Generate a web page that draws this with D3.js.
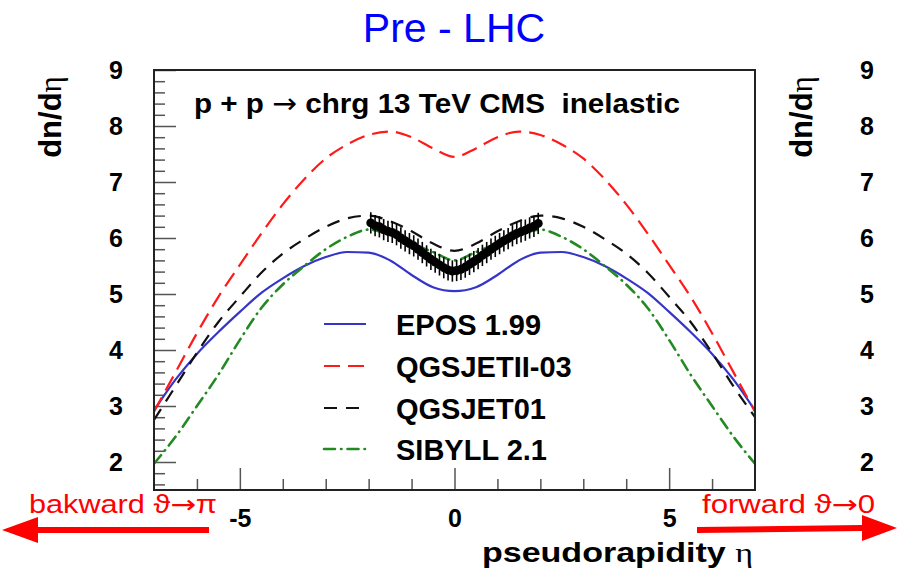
<!DOCTYPE html>
<html><head><meta charset="utf-8">
<script src="https://cdn.jsdelivr.net/npm/d3@7"></script>
<style>html,body{margin:0;padding:0;background:#fff;}svg{display:block;}</style>
</head><body>
<svg id="c" width="897" height="585"></svg>
<script>
// ---------- data ----------
const etaGrid = [-7,-6.5,-6,-5.5,-5,-4.5,-4,-3.5,-3,-2.5,-2,-1.5,-1,-0.5,0,0.5,1,1.5,2,2.5,3,3.5,4,4.5,5,5.5,6,6.5,7];
const epos     = [2.92,3.47,3.93,4.32,4.68,5.02,5.28,5.5,5.66,5.75,5.74,5.6,5.34,5.12,5.05,5.12,5.34,5.6,5.74,5.75,5.66,5.5,5.28,5.02,4.68,4.32,3.93,3.47,2.92];
const qgsjet2  = [2.9,3.6,4.3,4.95,5.52,6.08,6.6,7.05,7.42,7.67,7.84,7.9,7.8,7.6,7.45,7.6,7.8,7.9,7.84,7.67,7.42,7.05,6.6,6.08,5.52,4.95,4.3,3.6,2.9];
const qgsjet01 = [2.75,3.35,3.95,4.5,4.95,5.38,5.72,5.98,6.2,6.35,6.4,6.3,6.12,5.9,5.77,5.9,6.12,6.3,6.4,6.35,6.2,5.98,5.72,5.38,4.95,4.5,3.95,3.35,2.8];
const sibyll   = [1.97,2.45,3.0,3.56,4.18,4.75,5.17,5.5,5.8,6.02,6.15,6.05,5.9,5.75,5.6,5.75,5.9,6.05,6.15,6.02,5.8,5.5,5.17,4.75,4.18,3.56,3.0,2.45,1.97];

const cmsEta = [-1.95,-1.85,-1.75,-1.65,-1.55,-1.45,-1.35,-1.25,-1.15,-1.05,-0.95,-0.85,-0.75,-0.65,-0.55,-0.45,-0.35,-0.25,-0.15,-0.05,
                 0.05,0.15,0.25,0.35,0.45,0.55,0.65,0.75,0.85,0.95,1.05,1.15,1.25,1.35,1.45,1.55,1.65,1.75,1.85,1.95];
const cmsVal = [6.27,6.22,6.2,6.15,6.12,6.1,6.06,6.0,5.95,5.9,5.86,5.8,5.74,5.68,5.62,5.57,5.52,5.47,5.43,5.41,
                5.42,5.44,5.48,5.53,5.58,5.63,5.69,5.74,5.8,5.85,5.9,5.95,5.99,6.04,6.08,6.11,6.14,6.18,6.21,6.26];
const cmsErr = 0.19;

const xMajor = [-5,0,5];
const xMinor = [-6,-4,-3,-2,-1,1,2,3,4,6];
const yMajor = [2,3,4,5,6,7,8,9];
const yMinor = [1.6,1.8,2.2,2.4,2.6,2.8,3.2,3.4,3.6,3.8,4.2,4.4,4.6,4.8,5.2,5.4,5.6,5.8,6.2,6.4,6.6,6.8,7.2,7.4,7.6,7.8,8.2,8.4,8.6,8.8];

const seriesNames  = ["EPOS 1.99","QGSJETII-03","QGSJET01","SIBYLL 2.1"];
const seriesValues = [epos, qgsjet2, qgsjet01, sibyll];
const seriesColors = ["#3535c8","#ff1a1a","#111111","#238a23"];
const seriesDash   = ["", "16,8", "13,9", "11,6,0.5,6"];
const seriesCap    = ["butt","butt","butt","round"];

// ---------- chart ----------
const svg = d3.select("#c");
const L=154, R=755, T=70, B=490;
const x = d3.scaleLinear().domain([-7,7]).range([L,R]);
const y = d3.scaleLinear().domain([1.5,9]).range([B,T]);
const boldFont = "'Liberation Sans', Arial, Helvetica, sans-serif";
const symFont = "'DejaVu Sans', sans-serif";
const fmt = d => String(d);

// title
svg.append("text").attr("x",454).attr("y",42).attr("text-anchor","middle")
  .attr("font-family",boldFont).attr("font-size",41).attr("fill","#0000ff").text("Pre - LHC");

// clip
svg.append("clipPath").attr("id","clip").append("rect").attr("x",L).attr("y",T).attr("width",R-L).attr("height",B-T);

// axes ticks
function styleAxis(g){
  g.select(".domain").remove();
  g.selectAll(".tick line").attr("stroke","#555").attr("stroke-width",1.5);
  g.attr("font-family",boldFont).attr("font-weight","bold").attr("font-size",25);
  g.selectAll(".tick text").attr("fill","#000");
}
svg.append("g").attr("transform",`translate(0,${B})`)
  .call(d3.axisBottom(x).tickValues(xMinor).tickSize(-11).tickFormat("")).call(styleAxis);
svg.append("g").attr("transform",`translate(0,${B})`)
  .call(d3.axisBottom(x).tickValues(xMajor).tickSize(-22).tickPadding(19).tickFormat(fmt)).call(styleAxis);
svg.append("g").attr("transform",`translate(${L},0)`)
  .call(d3.axisLeft(y).tickValues(yMinor).tickSize(-11).tickFormat("")).call(styleAxis);
svg.append("g").attr("transform",`translate(${L},0)`)
  .call(d3.axisLeft(y).tickValues(yMajor).tickSize(-22).tickPadding(31).tickFormat(fmt)).call(styleAxis);
svg.append("g").attr("transform",`translate(${R},0)`)
  .call(d3.axisRight(y).tickValues(yMajor).tickSize(0).tickPadding(105).tickFormat(fmt)).call(styleAxis);

// curves
const plot = svg.append("g").attr("clip-path","url(#clip)");
const line = d3.line().x((d,i)=>x(etaGrid[i])).y(d=>y(d)).curve(d3.curveMonotoneX);
seriesValues.forEach((vals,k)=>{
  plot.append("path").attr("d",line(vals)).attr("fill","none")
    .attr("stroke",seriesColors[k]).attr("stroke-width",k===3?2.6:2.2)
    .attr("stroke-linecap",seriesCap[k])
    .attr("stroke-dasharray",seriesDash[k]||null);
});

// CMS data
const dg = plot.append("g");
cmsEta.forEach((e,i)=>{
  const v=cmsVal[i];
  dg.append("line").attr("x1",x(e)).attr("x2",x(e)).attr("y1",y(v-cmsErr)).attr("y2",y(v+cmsErr))
    .attr("stroke","#000").attr("stroke-width",1.6);
  dg.append("line").attr("x1",x(e-0.05)).attr("x2",x(e+0.05)).attr("y1",y(v)).attr("y2",y(v))
    .attr("stroke","#000").attr("stroke-width",1.6);
  dg.append("circle").attr("cx",x(e)).attr("cy",y(v)).attr("r",4.5).attr("fill","#000");
});

// frame
svg.append("rect").attr("x",L).attr("y",T).attr("width",R-L).attr("height",B-T)
  .attr("fill","none").attr("stroke","#222").attr("stroke-width",2);

// annotation
const ann = svg.append("text").attr("x",194).attr("y",113).attr("font-family",boldFont).attr("font-weight","bold")
  .attr("font-size",28).attr("textLength",486).attr("lengthAdjust","spacingAndGlyphs")
  .attr("xml:space","preserve").style("white-space","pre");
ann.append("tspan").text("p + p ");
ann.append("tspan").attr("font-family",symFont).attr("font-weight","normal").text("\u2192");
ann.append("tspan").text(" chrg 13 TeV CMS \u00A0inelastic");

// legend
const legY = [324,366,408,449];
seriesNames.forEach((n,k)=>{
  svg.append("line").attr("x1",324).attr("x2",366).attr("y1",legY[k]).attr("y2",legY[k])
    .attr("stroke",seriesColors[k]).attr("stroke-width",k===3?2.6:2.2).attr("stroke-linecap",seriesCap[k])
    .attr("stroke-dasharray",seriesDash[k]||null);
  svg.append("text").attr("x",396).attr("y",legY[k]+10.8).attr("font-family",boldFont)
    .attr("font-weight","bold").attr("font-size",29).text(n);
});

// axis titles
function etaLabel(sel, base){
  sel.append("tspan").text(base);
  sel.append("tspan").attr("font-weight","normal").attr("font-family","'Liberation Serif','DejaVu Serif',serif").text("\u03B7");
}
svg.append("text").attr("transform","translate(61,117) rotate(-90)").attr("text-anchor","middle")
  .attr("font-family",boldFont).attr("font-weight","bold").attr("font-size",31).call(etaLabel,"dn/d");
svg.append("text").attr("transform","translate(812,117) rotate(-90)").attr("text-anchor","middle")
  .attr("font-family",boldFont).attr("font-weight","bold").attr("font-size",31).call(etaLabel,"dn/d");
svg.append("text").attr("x",482).attr("y",562).attr("font-family",boldFont).attr("font-weight","bold")
  .attr("font-size",28).attr("textLength",271).attr("lengthAdjust","spacingAndGlyphs").call(etaLabel,"pseudorapidity ");

// direction arrows
function dirLabel(xp, len, word, end){
  const t = svg.append("text").attr("x",xp).attr("y",513).attr("font-family",boldFont).attr("font-size",25)
    .attr("fill","#ff0000").attr("textLength",len).attr("lengthAdjust","spacingAndGlyphs");
  t.append("tspan").text(word + " \u03D1");
  t.append("tspan").attr("font-family",symFont).text("\u2192");
  t.append("tspan").text(end);
}
dirLabel(29,188,"bakward","\u03C0");
dirLabel(702,173,"forward","0");
svg.append("path").attr("d","M2,530 L38,517 L38,527 L209,527 L209,533 L38,533 L38,543 Z").attr("fill","#ff0000");
svg.append("path").attr("d","M897,528 L862,515 L862,525 L697,527 L697,533 L862,531 L862,541 Z").attr("fill","#ff0000");
</script>
</body></html>
